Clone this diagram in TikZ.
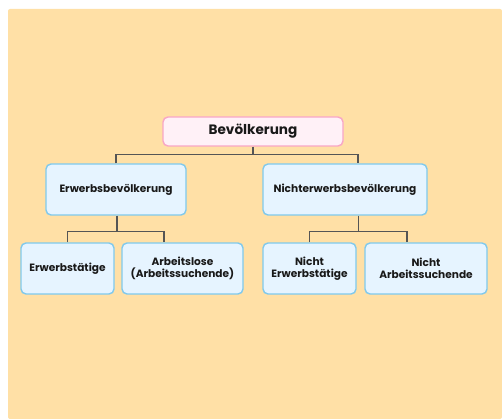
\documentclass[tikz,border=0pt]{standalone}
\usepackage{fontspec}
\setmainfont{Poppins}
\begin{document}
\begin{tikzpicture}[x=1pt,y=-1pt,
  bx/.style={draw=boxblue,fill=boxfill,line width=1.4pt,rounded corners=5pt,align=center,font=\bfseries\fontsize{10.6}{12.5}\selectfont,text=black!90,inner sep=0pt},
  conn/.style={draw=conngray,line width=1.4pt}]
\definecolor{bg}{HTML}{FFE0A6}
\definecolor{boxblue}{HTML}{80C9EC}
\definecolor{boxfill}{HTML}{E6F4FF}
\definecolor{pinkb}{HTML}{F8A6C6}
\definecolor{pinkf}{HTML}{FFF1F7}
\definecolor{conngray}{HTML}{555555}
\useasboundingbox (0,0) rectangle (502,419);
\fill[bg,rounded corners=2pt] (8,9) rectangle (502,419);
\node[bx,draw=pinkb,fill=pinkf,minimum width=180pt,minimum height=29pt,font=\bfseries\fontsize{13.6}{16}\selectfont] (root) at (253,131.5) {Bevölkerung};
\node[bx,minimum width=140pt,minimum height=51pt] (erw) at (116,189.5) {Erwerbsbevölkerung};
\node[bx,minimum width=164pt,minimum height=51pt] (nicht) at (345,189.5) {Nichterwerbsbevölkerung};
\node[bx,minimum width=93pt,minimum height=51pt] (et) at (67.5,268.5) {Erwerbstätige};
\node[bx,minimum width=121pt,minimum height=51pt] (al) at (182.5,268.5) {Arbeitslose\\(Arbeitssuchende)};
\node[bx,minimum width=93pt,minimum height=51pt] (ne) at (309.5,268.5) {Nicht\\Erwerbstätige};
\node[bx,minimum width=122pt,minimum height=51pt] (na) at (426,268.5) {Nicht\\Arbeitssuchende};
\draw[conn] (root.south) -- (253,154.7) coordinate (j0);
\draw[conn] (erw.north) |- (j0) -| ([xshift=13pt]nicht.north);
\draw[conn] ([xshift=1pt]erw.south) -- ++(0,16) coordinate (j1);
\draw[conn] (et.north) |- (j1) -| ([xshift=-18.5pt]al.north);
\draw[conn] ([xshift=13.5pt]nicht.south) -- ++(0,16) coordinate (j2);
\draw[conn] (ne.north) |- (j2) -| ([xshift=-19pt]na.north);
\end{tikzpicture}
\end{document}
